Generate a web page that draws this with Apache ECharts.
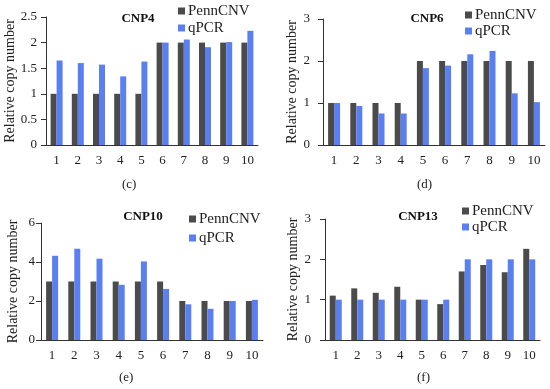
<!DOCTYPE html>
<html><head><meta charset="utf-8">
<script src="https://cdn.jsdelivr.net/npm/echarts@6/dist/echarts.min.js"></script>
<style>html,body{margin:0;padding:0;background:#fff}#c{width:550px;height:389px}</style>
</head><body><div id="c"></div>
<script>
var categories = ['1','2','3','4','5','6','7','8','9','10'];
var cnp4Penn = [1,1,1,1,1,2,2,2,2,2];
var cnp4Qpcr = [1.65,1.60,1.57,1.34,1.63,2.0,2.06,1.91,2.01,2.23];
var cnp6Penn = [1,1,1,1,2,2,2,2,2,2];
var cnp6Qpcr = [1.0,0.93,0.75,0.75,1.83,1.89,2.16,2.24,1.23,1.02];
var cnp10Penn = [3,3,3,3,3,3,2,2,2,2];
var cnp10Qpcr = [4.32,4.68,4.17,2.83,4.03,2.62,1.83,1.6,2.0,2.06];
var cnp13Penn = [1.10,1.28,1.17,1.32,1.0,0.89,1.70,1.86,1.68,2.26];
var cnp13Qpcr = [1,1,1,1,1,1,2,2,2,2];
var panelTitles = ['CNP4','CNP6','CNP10','CNP13'];
var panelTags = ['(c)','(d)','(e)','(f)'];
var yMax = [2.5,3,6,3];
var yStep = [0.5,1,2,1];

var FONT = 'Liberation Serif';
var DARK = '#4b4b4b', BLUE = '#5a7ff0', AX = '#333';
var grids = [
  {left:46, top:17, width:212, height:128},
  {left:323, top:19, width:222, height:126},
  {left:41, top:223, width:222, height:117},
  {left:325, top:219, width:215, height:121}
];
var nameGaps = [25,22,21,24];
var labelMargins = [9,13,6,14];
var titlePos = [[133,7],[422,7],[138,205],[413,205]];
var legendPos = [[178,3.5,2],[465,7.5,1],[189,211.5,4],[462,203.5,1]];
var tagPos = [[130,178],[425,178],[127,371],[425,371]];
var pennData = [cnp4Penn,cnp6Penn,cnp10Penn,cnp13Penn];
var qData = [cnp4Qpcr,cnp6Qpcr,cnp10Qpcr,cnp13Qpcr];

var option = {backgroundColor:'#fff', animation:false, textStyle:{fontFamily:FONT},
  grid:grids, xAxis:[], yAxis:[], series:[], title:[], legend:[], graphic:[]};
for (var i=0;i<4;i++){
  option.xAxis.push({type:'category', gridIndex:i, data:categories,
    axisLine:{lineStyle:{color:AX,width:1}}, axisTick:{show:false},
    axisLabel:{color:'#222', fontFamily:FONT, fontSize:13, margin:9}});
  option.yAxis.push({type:'value', gridIndex:i, min:0, max:yMax[i], interval:yStep[i],
    name:'Relative copy number', nameLocation:'middle', nameGap:nameGaps[i], nameRotate:90,
    nameTextStyle:{color:'#222', fontFamily:FONT, fontSize:14},
    axisLine:{show:true, lineStyle:{color:AX,width:1}},
    axisTick:{show:true, inside:false, length:5, lineStyle:{color:AX}},
    splitLine:{show:false},
    axisLabel:{color:'#222', fontFamily:FONT, fontSize:13, margin:labelMargins[i]}});
  option.series.push({name:'PennCNV', type:'bar', xAxisIndex:i, yAxisIndex:i,
    data:pennData[i], barWidth:6, barGap:'0%', itemStyle:{color:DARK}});
  option.series.push({name:'qPCR', type:'bar', xAxisIndex:i, yAxisIndex:i,
    data:qData[i], barWidth:6, barGap:'0%', itemStyle:{color:BLUE}});
  option.title.push({text:panelTitles[i], left:titlePos[i][0], top:titlePos[i][1],
    textAlign:'center', textStyle:{fontFamily:FONT, fontSize:13, fontWeight:'bold', color:'#111'}});
  option.legend.push({data:['PennCNV','qPCR'], orient:'vertical', left:legendPos[i][0], top:legendPos[i][1],
    padding:0, itemWidth:7, itemHeight:7, itemGap:legendPos[i][2], icon:'rect',
    textStyle:{fontFamily:FONT, fontSize:15, color:'#222', padding:[0,0,0,-2]}});
  option.graphic.push({type:'text', left:tagPos[i][0]-8, top:tagPos[i][1],
    style:{text:panelTags[i], font:'13px "Liberation Serif"', fill:'#222'}});
}
echarts.init(document.getElementById('c')).setOption(option);
</script></body></html>
